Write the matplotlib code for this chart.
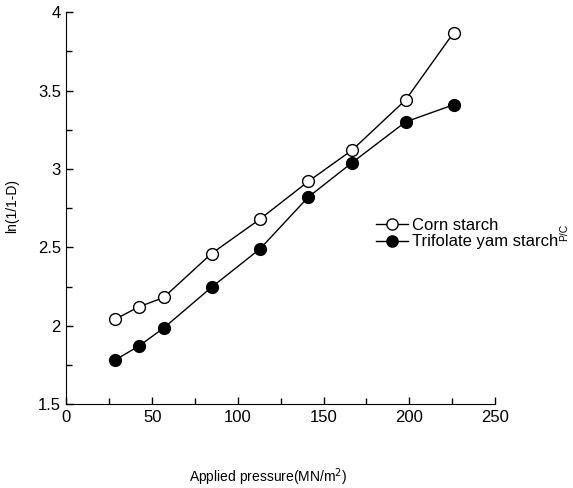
import numpy as np
from matplotlib import pyplot as plt
from matplotlib.ticker import MultipleLocator

plt.rcParams['font.family'] = ['Liberation Sans', 'DejaVu Sans']

# applied pressure values (MN/m2)
pressure = [28.2, 42.2, 56.7, 84.6, 112.9, 141.0, 166.6, 197.8, 225.9]

# ln(1/1-D) values
corn = [2.04, 2.12, 2.18, 2.46, 2.68, 2.92, 3.12, 3.44, 3.87]
trifolate = [1.78, 1.87, 1.985, 2.245, 2.49, 2.82, 3.04, 3.30, 3.41]

fig = plt.figure(figsize=(5.73, 4.88), dpi=100)
ax = fig.add_axes([0.116, 0.172, 0.748, 0.803])

ax.plot(pressure, corn, color='black', lw=1, marker='o', ms=8.5,
        mfc='white', mec='black', mew=1, label='Corn starch')
ax.plot(pressure, trifolate, color='black', lw=1, marker='o', ms=8.5,
        mfc='black', mec='black', label='Trifolate yam starch')

ax.set_xlim(0, 250)
ax.set_ylim(1.5, 4)
ax.xaxis.set_major_locator(MultipleLocator(50))
ax.xaxis.set_minor_locator(MultipleLocator(25))
ax.yaxis.set_major_locator(MultipleLocator(0.5))
ax.yaxis.set_minor_locator(MultipleLocator(0.25))
ax.set_yticks([1.5, 2, 2.5, 3, 3.5, 4])
ax.set_yticklabels(['1.5', '2', '2.5', '3', '3.5', '4'])

ax.spines['top'].set_visible(False)
ax.spines['right'].set_visible(False)
ax.tick_params(which='both', direction='in', labelsize=12, width=1)
ax.tick_params(which='major', length=5, pad=4)
ax.tick_params(which='minor', length=4)

fig.text(0.021, 0.578, 'ln(1/1-D)', fontsize=10, rotation=90, ha='center', va='center')
fig.text(0.468, 0.013, 'Applied pressure(MN/m$^2$)', fontsize=10, ha='center')

ax.legend(loc='center left', bbox_to_anchor=(0.722, 0.435), frameon=False,
          fontsize=12, handlelength=1.9, handletextpad=0.25, labelspacing=0.1,
          borderaxespad=0, borderpad=0, markerscale=0.95)
fig.text(0.985, 0.523, 'P/C', fontsize=7.5, rotation=90, ha='center', va='center')

fig.savefig('out.png', dpi=100)
